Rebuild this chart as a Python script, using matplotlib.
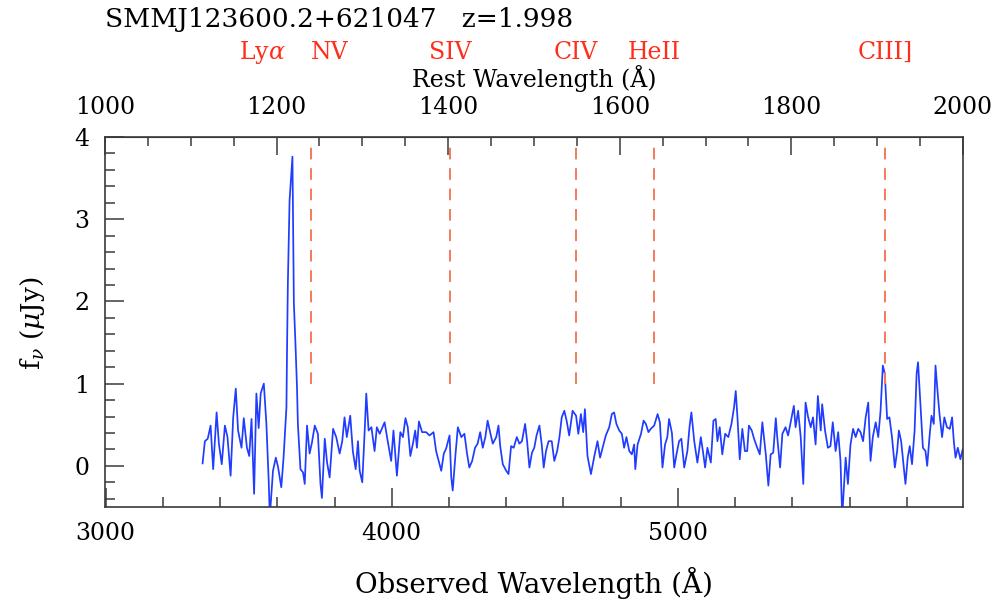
import matplotlib
matplotlib.use("Agg")
import matplotlib.pyplot as plt
from matplotlib.ticker import MultipleLocator
import numpy as np

# --- data -------------------------------------------------------------
z = 1.998
title = "SMMJ123600.2+621047   z=1.998"

obs_wave = [
    3339, 3347, 3357, 3367, 3376, 3388, 3396, 3406, 3417, 3426,
    3437, 3446, 3455, 3463, 3475, 3483, 3494, 3502, 3510, 3519,
    3527, 3535, 3542, 3553, 3562, 3570, 3574, 3585, 3595, 3603,
    3614, 3622, 3632, 3634, 3637, 3643, 3653, 3658, 3664, 3669,
    3672, 3681, 3690, 3696, 3704, 3713, 3721, 3731, 3742, 3751,
    3756, 3766, 3774, 3783, 3795, 3806, 3818, 3827, 3835, 3843,
    3855, 3864, 3874, 3882, 3888, 3897, 3905, 3911, 3919, 3929,
    3940, 3948, 3958, 3975, 3986, 3998, 4006, 4018, 4030, 4039,
    4048, 4056, 4065, 4074, 4082, 4088, 4095, 4106, 4120, 4132,
    4146, 4155, 4164, 4173, 4182, 4190, 4202, 4208, 4213, 4223,
    4231, 4243, 4254, 4263, 4271, 4281, 4291, 4300, 4309, 4318,
    4327, 4335, 4345, 4353, 4365, 4373, 4379, 4388, 4400, 4408,
    4417, 4426, 4437, 4446, 4455, 4466, 4473, 4481, 4490, 4498,
    4506, 4516, 4524, 4531, 4539, 4548, 4559, 4568, 4578, 4586,
    4594, 4603, 4611, 4620, 4632, 4644, 4652, 4661, 4669, 4675,
    4684, 4696, 4708, 4719, 4728, 4737, 4748, 4760, 4769, 4777,
    4785, 4795, 4804, 4812, 4820, 4830, 4839, 4847, 4851, 4859,
    4871, 4880, 4888, 4897, 4905, 4917, 4929, 4937, 4946, 4955,
    4963, 4969, 4979, 4987, 4995, 5004, 5012, 5022, 5033, 5041,
    5047, 5057, 5068, 5080, 5088, 5095, 5103, 5115, 5124, 5132,
    5138, 5146, 5155, 5165, 5176, 5187, 5196, 5202, 5208, 5216,
    5225, 5234, 5242, 5248, 5258, 5266, 5275, 5286, 5295, 5307,
    5316, 5324, 5333, 5342, 5347, 5357, 5365, 5376, 5385, 5394,
    5405, 5411, 5420, 5429, 5438, 5446, 5455, 5464, 5472, 5481,
    5489, 5499, 5504, 5514, 5524, 5533, 5541, 5551, 5560, 5568,
    5574, 5586, 5594, 5603, 5612, 5621, 5630, 5638, 5647, 5656,
    5665, 5673, 5681, 5691, 5700, 5708, 5716, 5723, 5731, 5739,
    5748, 5758, 5766, 5772, 5780, 5787, 5795, 5803, 5810, 5818,
    5827, 5834, 5839, 5848, 5856, 5865, 5871, 5879, 5886, 5894,
    5900, 5908, 5914, 5923, 5931, 5940, 5950, 5958, 5964, 5970,
    5978, 5987, 5995,
]

flux = [
    0.03, 0.30, 0.33, 0.49, -0.04, 0.65, 0.27, 0.02, 0.49, 0.35,
    -0.12, 0.59, 0.94, 0.43, 0.22, 0.58, 0.22, 0.12, 0.57, -0.34,
    0.88, 0.46, 0.88, 1.00, 0.51, -0.18, -0.62, -0.06, 0.10, -0.02,
    -0.26, 0.10, 0.71, 1.38, 2.22, 3.23, 3.76, 1.98, 1.44, 0.95,
    0.51, -0.04, -0.08, -0.22, 0.49, 0.15, 0.28, 0.49, 0.39, -0.22,
    -0.39, 0.33, 0.04, -0.14, 0.45, 0.35, 0.15, 0.30, 0.59, 0.35,
    0.61, 0.18, -0.04, 0.30, -0.06, -0.20, 0.39, 0.88, 0.43, 0.47,
    0.18, 0.47, 0.39, 0.53, 0.30, 0.06, 0.43, -0.12, 0.41, 0.35,
    0.58, 0.47, 0.12, 0.27, 0.43, 0.22, 0.54, 0.41, 0.41, 0.37,
    0.41, 0.18, 0.06, -0.06, 0.15, 0.21, 0.37, -0.14, -0.30, 0.15,
    0.47, 0.35, 0.39, 0.15, -0.02, 0.06, 0.22, 0.27, 0.41, 0.22,
    0.35, 0.55, 0.39, 0.27, 0.35, 0.49, 0.24, 0.02, -0.06, -0.10,
    0.24, 0.22, 0.35, 0.27, 0.30, 0.51, 0.30, -0.02, 0.16, 0.22,
    0.37, 0.49, 0.26, -0.02, 0.18, 0.30, 0.30, 0.06, 0.18, 0.35,
    0.59, 0.67, 0.55, 0.37, 0.67, 0.61, 0.39, 0.63, 0.41, 0.69,
    0.12, -0.10, 0.12, 0.30, 0.10, 0.22, 0.37, 0.47, 0.63, 0.65,
    0.51, 0.43, 0.39, 0.22, 0.35, 0.18, 0.14, 0.26, -0.04, 0.26,
    0.39, 0.55, 0.51, 0.41, 0.45, 0.49, 0.63, 0.53, -0.02, 0.26,
    0.35, 0.57, 0.40, -0.02, 0.14, 0.30, 0.33, -0.02, 0.18, 0.49,
    0.65, 0.30, 0.04, 0.35, 0.16, -0.02, 0.22, 0.04, 0.55, 0.57,
    0.30, 0.47, 0.14, 0.39, 0.35, 0.51, 0.71, 0.91, 0.59, 0.08,
    0.45, 0.18, 0.18, 0.49, 0.43, 0.33, 0.24, 0.14, 0.53, 0.14,
    -0.24, 0.14, 0.16, 0.58, 0.35, -0.02, 0.39, 0.47, 0.37, 0.53,
    0.73, 0.47, 0.67, 0.35, -0.22, 0.77, 0.59, 0.47, 0.59, 0.26,
    0.85, 0.43, 0.75, 0.43, 0.22, 0.24, 0.53, 0.18, 0.41, 0.06,
    -0.62, 0.10, -0.22, 0.26, 0.45, 0.35, 0.45, 0.41, 0.30, 0.59,
    0.77, 0.06, 0.35, 0.53, 0.35, 0.67, 1.22, 1.12, 0.57, 0.59,
    0.35, -0.02, 0.18, 0.43, 0.30, 0.06, -0.22, 0.10, 0.24, 0.02,
    0.43, 1.12, 1.26, 0.71, 0.22, 0.18, 0.00, 0.35, 0.61, 0.51,
    1.22, 0.87, 0.63, 0.35, 0.59, 0.47, 0.45, 0.59, 0.30, 0.10,
    0.22, 0.08, 0.20,
]

# emission lines (rest frame, Angstrom)
line_names = ["Ly$\\alpha$", "NV", "SIV", "CIV", "HeII", "CIII]"]
line_rest = [1216, 1240, 1402, 1549, 1640, 1909]
label_rest = [1183, 1262, 1402, 1549, 1640, 1909]   # where the names sit
marked = [False, True, True, True, True, True]      # dashed marker drawn?

# --- plot -------------------------------------------------------------
plt.rcParams['font.family'] = ['DejaVu Serif']
plt.rcParams['mathtext.fontset'] = 'dejavuserif'

fig = plt.figure(figsize=(9.98, 6.06), dpi=100)
ax = fig.add_axes([0.1052, 0.1634, 0.8597, 0.6106])

spec_col = '#1f3cff'
red = '#ff2d1a'
dash_col = '#f47a5c'
axcol = '#3a3a3a'

ax.plot(obs_wave, flux, color=spec_col, lw=1.25)

for r, m in zip(line_rest, marked):
    if m:
        ax.plot([r * (1 + z)] * 2, [1.0, 3.9], color=dash_col, lw=1.4,
                linestyle=(0, (6, 4.5)))

ax.set_xlim(1000 * (1 + z), 2000 * (1 + z))
ax.set_ylim(-0.5, 4)

ax.xaxis.set_major_locator(MultipleLocator(1000))
ax.xaxis.set_minor_locator(MultipleLocator(200))
ax.yaxis.set_major_locator(MultipleLocator(1))
ax.yaxis.set_minor_locator(MultipleLocator(0.2))

ax.tick_params(axis='both', which='both', direction='in', colors=axcol,
               labelcolor='black', labelsize=17, top=False, right=False)
ax.tick_params(axis='both', which='major', length=14, width=1.1)
ax.tick_params(axis='both', which='minor', length=7, width=1.1)
ax.tick_params(axis='x', pad=11)
ax.tick_params(axis='y', pad=11)
for s in ax.spines.values():
    s.set_color(axcol)
    s.set_linewidth(1.2)

top = ax.secondary_xaxis('top', functions=(lambda x: x / (1 + z),
                                           lambda x: x * (1 + z)))
top.xaxis.set_major_locator(MultipleLocator(200))
top.xaxis.set_minor_locator(MultipleLocator(50))
top.tick_params(axis='x', which='both', direction='in', colors=axcol,
                labelcolor='black', labelsize=17, pad=13)
top.tick_params(axis='x', which='major', length=13, width=1.1)
top.tick_params(axis='x', which='minor', length=6.5, width=1.1)
top.spines['top'].set_color(axcol)

fig.text(0.5351, 1 - 583 / 606, "Observed Wavelength (Å)", ha='center',
         va='center', fontsize=20)
ax.text(0.5, 1.158, "Rest Wavelength (Å)", transform=ax.transAxes,
        ha='center', va='center', fontsize=17)
fig.text(0.033, 1 - 323 / 606, "f$_\\nu$ ($\\mu$Jy)", rotation=90,
         ha='center', va='center', fontsize=19)

ax.text(0.0, 1.318, title, transform=ax.transAxes, ha='left',
        va='center', fontsize=19)

xt = ax.get_xaxis_transform()
for name, lr in zip(line_names, label_rest):
    ax.text(lr * (1 + z), 1.228, name, transform=xt, ha='center',
            va='center', color=red, fontsize=17)

fig.savefig("out.png", dpi=100)
